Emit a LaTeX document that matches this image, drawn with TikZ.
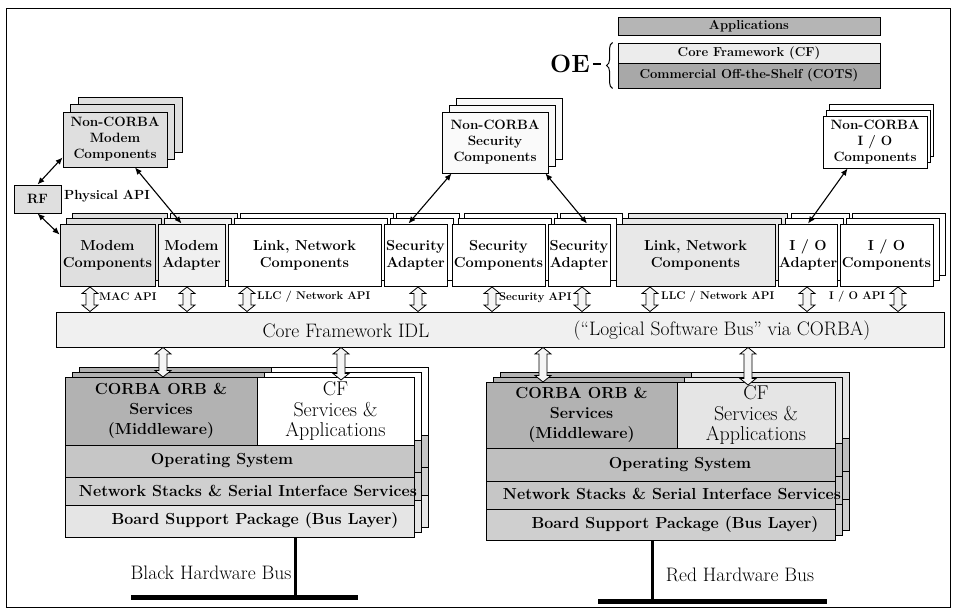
\documentclass[tikz,border=0pt]{standalone}
\usepackage{fontspec}
\usetikzlibrary{arrows.meta,decorations.pathreplacing,calc}
\newcommand\holarr[3]{\filldraw[hol] (#1-4,#2+6.5) -- (#1-8,#2+6.5) -- (#1,#2) -- (#1+8,#2+6.5) -- (#1+4,#2+6.5) -- (#1+4,#3-6.5) -- (#1+8,#3-6.5) -- (#1,#3) -- (#1-8,#3-6.5) -- (#1-4,#3-6.5) -- cycle;}
\newcommand\heavier{\addfontfeature{FakeBold=0.7}}
\tikzset{
 bx/.style={draw=black, line width=0.9pt, inner sep=0pt, align=center},
 bk/.style={draw=black, line width=0.9pt},
 rowf/.style={font=\fontsize{14.5}{17}\selectfont\bfseries},
 ncf/.style={font=\fontsize{13.5}{16}\selectfont\bfseries},
 lgf/.style={font=\fontsize{13}{14}\selectfont\bfseries},
 apif/.style={font=\fontsize{11.2}{12}\selectfont\bfseries, inner sep=0pt, anchor=west},
 stf/.style={font=\fontsize{16}{20}\selectfont\bfseries, inner sep=0pt, align=center},
 cff/.style={font=\fontsize{20}{20.5}\selectfont\heavier, inner sep=0pt, align=center},
 bigf/.style={font=\fontsize{19.5}{21}\selectfont\heavier, inner sep=0pt},
 hol/.style={draw=black, line width=0.8pt, fill=gray!8},
 thinarr/.style={{Latex[length=7pt,width=6pt]}-{Latex[length=7pt,width=6pt]}, line width=1.1pt},
}
\begin{document}
\begin{tikzpicture}[x=1pt,y=-1pt]
\useasboundingbox (0,0) rectangle (956,609);
\draw[line width=0.8pt] (6,8) rectangle (950,607);

% ---------- legend ----------
\node[bx, lgf, fill=gray!58, minimum width=262pt, minimum height=18pt] (apps) at (749,26) {Applications};
\node[bx, lgf, fill=gray!15, minimum width=262pt, minimum height=20pt] (cfl) at (749,53) {Core Framework (CF)};
\node[bx, lgf, fill=gray!68, minimum width=262pt, minimum height=25pt] (cots) at (749,75.5) {Commercial Off-the-Shelf (COTS)};
\node[font=\fontsize{25}{26}\selectfont\bfseries, inner sep=0pt] (oe) at (570,64) {OE};
\draw[decorate, decoration={brace, amplitude=6pt}, line width=1pt] ([xshift=-5pt]cots.south west) -- ([xshift=-5pt]cfl.north west);
\draw[line width=1.2pt] ([xshift=3pt]oe.east) -- ++(8,0);

% ---------- non-CORBA stacks (back copies) ----------
\foreach \xa/\ya/\xb/\yb/\dx/\dy/\c in {63/112/167/167/7.5/7.5/gray!25, 442/112/548/173/7/7/gray!4, 823/116/927/168/3/6/white}{
  \foreach \k in {2,1} \filldraw[bk, fill=\c] (\xa+\k*\dx, \ya-\k*\dy) rectangle (\xb+\k*\dx, \yb-\k*\dy);
}
\node[bx, ncf, fill=gray!25, minimum width=104pt, minimum height=55pt] (ncm) at (115,139.5) {Non-CORBA\\Modem\\Components};
\node[bx, ncf, fill=gray!4, minimum width=106pt, minimum height=61pt] (nsc) at (495,142.5) {Non-CORBA\\Security\\Components};
\node[bx, ncf, fill=white, minimum width=104pt, minimum height=52pt] (nio) at (875,142) {Non-CORBA\\I / O\\Components};

% RF
\node[bx, ncf, fill=gray!25, minimum width=47pt, minimum height=28pt] (rf) at (37.5,199) {RF};
\node[font=\fontsize{13.2}{14}\selectfont\bfseries, inner sep=0pt, anchor=west] (phy) at (64,196) {Physical API};

% ---------- component row (back copies) ----------
\foreach \xa/\xb/\c in {60/155/gray!25, 158/225/gray!12, 228/381/white, 384/447/white, 452/545/white, 548/610/white, 616/775/gray!18, 779/837/white, 840/933/white}{
  \foreach \k in {2,1} \filldraw[bk, fill=\c] (\xa+\k*6, 224-\k*5.5) rectangle (\xb+\k*6, 286-\k*5.5);
}
\node[bx, rowf, fill=gray!25, minimum width=95pt, minimum height=62pt] (mc) at (107.5,255) {Modem\\Components};
\node[bx, rowf, fill=gray!12, minimum width=67pt, minimum height=62pt] (ma) at (191.5,255) {Modem\\Adapter};
\node[bx, rowf, fill=white, minimum width=153pt, minimum height=62pt] (ln1) at (304.5,255) {Link, Network\\Components};
\node[bx, rowf, fill=white, minimum width=63pt, minimum height=62pt] (sa1) at (415.5,255) {Security\\Adapter};
\node[bx, rowf, fill=white, minimum width=93pt, minimum height=62pt] (sc) at (498.5,255) {Security\\Components};
\node[bx, rowf, fill=white, minimum width=62pt, minimum height=62pt] (sa2) at (579,255) {Security\\Adapter};
\node[bx, rowf, fill=gray!18, minimum width=159pt, minimum height=62pt] (ln2) at (695.5,255) {Link, Network\\Components};
\node[bx, rowf, fill=white, minimum width=58pt, minimum height=62pt] (ia) at (808,255) {I / O\\Adapter};
\node[bx, rowf, fill=white, minimum width=93pt, minimum height=62pt] (ic) at (886.5,255) {I / O\\Components};

% ---------- CF bar ----------
\node[bx, fill=gray!12, minimum width=888pt, minimum height=35pt] (bar) at (500,329.5) {};
\node[bigf] (cfidl) at (346,331) {Core Framework IDL};
\node[bigf] (lsb) at (722,331) {(“Logical Software Bus” via CORBA)};

% API labels
\node[apif] (mac) at (99,297) {MAC API};
\node[apif] (llc1) at (257,297) {LLC / Network API};
\node[apif] (sapi) at (499,298) {Security API};
\node[apif] (llc2) at (661,297) {LLC / Network API};
\node[apif] (ioapi) at (829,297) {I / O API};

% hollow arrows row -> bar
\foreach \x in {90,187,247,418,492,582,650,807,898}{\holarr{\x}{287}{311.5}}

% ---------- lower left stack ----------
\foreach \k in {2,1}{
 \begin{scope}[shift={(\k*7,-\k*5)}]
  \filldraw[bk, fill=gray!60] (65,377) rectangle (257,445);
  \filldraw[bk, fill=white] (257,377) rectangle (414,445);
  \filldraw[bk, fill=gray!45] (65,445) rectangle (414,477);
  \filldraw[bk, fill=gray!38] (65,477) rectangle (414,505);
  \filldraw[bk, fill=gray!20] (65,505) rectangle (414,537);
 \end{scope}}
\node[bx, stf, fill=gray!60, minimum width=192pt, minimum height=68pt] (orbL) at (161,411) {CORBA ORB \&\\Services\\(Middleware)};
\node[bx, cff, fill=white, minimum width=157pt, minimum height=68pt] (cfsL) at (335.5,411) {CF\\Services \&\\Applications};
\node[bx, fill=gray!45, minimum width=349pt, minimum height=32pt] (osL) at (239.5,461) {};
\node[bx, fill=gray!38, minimum width=349pt, minimum height=28pt] (nsL) at (239.5,491) {};
\node[bx, fill=gray!20, minimum width=349pt, minimum height=32pt] (bspL) at (239.5,521) {};
\node[stf] (osLt) at (222,461) {Operating System};
\node[stf] (nsLt) at (248,491) {Network Stacks \& Serial Interface Services};
\node[stf] (bspLt) at (255,521) {Board Support Package (Bus Layer)};

% ---------- lower right stack ----------
\foreach \k in {2,1}{
 \begin{scope}[shift={(\k*7,-\k*5)}]
  \filldraw[bk, fill=gray!60] (486,382) rectangle (677,448);
  \filldraw[bk, fill=gray!20] (677,382) rectangle (835,448);
  \filldraw[bk, fill=gray!50] (486,448) rectangle (835,481);
  \filldraw[bk, fill=gray!45] (486,481) rectangle (835,509);
  \filldraw[bk, fill=gray!38] (486,509) rectangle (835,540);
 \end{scope}}
\node[bx, stf, fill=gray!60, minimum width=191pt, minimum height=66pt] (orbR) at (581.5,415) {CORBA ORB \&\\Services\\(Middleware)};
\node[bx, cff, fill=gray!20, minimum width=158pt, minimum height=66pt] (cfsR) at (756,415) {CF\\Services \&\\Applications};
\node[bx, fill=gray!50, minimum width=349pt, minimum height=33pt] (osR) at (660.5,464.5) {};
\node[bx, fill=gray!45, minimum width=349pt, minimum height=28pt] (nsR) at (660.5,495) {};
\node[bx, fill=gray!38, minimum width=349pt, minimum height=31pt] (bspR) at (660.5,524.5) {};
\node[stf] (osRt) at (680,465) {Operating System};
\node[stf] (nsRt) at (672,494) {Network Stacks \& Serial Interface Services};
\node[stf] (bspRt) at (675,525) {Board Support Package (Bus Layer)};

% hollow arrows bar -> stacks
\holarr{163}{347.5}{377}
\holarr{341}{347.5}{380}
\holarr{543}{347.5}{382}
\holarr{748}{347.5}{385}

% ---------- buses ----------
\coordinate (bl1) at (131,597); \coordinate (bl2) at (358,597); \coordinate (blj) at (295,597);
\coordinate (br1) at (598,601); \coordinate (br2) at (827,601); \coordinate (brj) at (652,601);
\draw[line width=3pt] (bspL.south -| blj) -- (blj);
\draw[line width=5pt] (bl1) -- (bl2);
\draw[line width=3pt] (bspR.south -| brj) -- (brj);
\draw[line width=5pt] (br1) -- (br2);
\node[bigf] (blk) at (211,573) {Black Hardware Bus};
\node[bigf] (red) at (740,575) {Red Hardware Bus};

% ---------- thin arrows ----------
\draw[thinarr] (rf.north) -- ([yshift=10pt]ncm.south west);
\draw[thinarr] (rf.south) -- ([yshift=-11pt]mc.north west);
\draw[thinarr] ([xshift=20pt]ncm.south) -- ([xshift=-10pt]ma.north);
\draw[thinarr] ([xshift=10pt]nsc.south west) -- ([xshift=-7pt]sa1.north);
\draw[thinarr] ([xshift=-3pt]nsc.south east) -- ([xshift=8pt]sa2.north);
\draw[thinarr] ([xshift=25pt]nio.south west) -- (ia.north);
\end{tikzpicture}
\end{document}
